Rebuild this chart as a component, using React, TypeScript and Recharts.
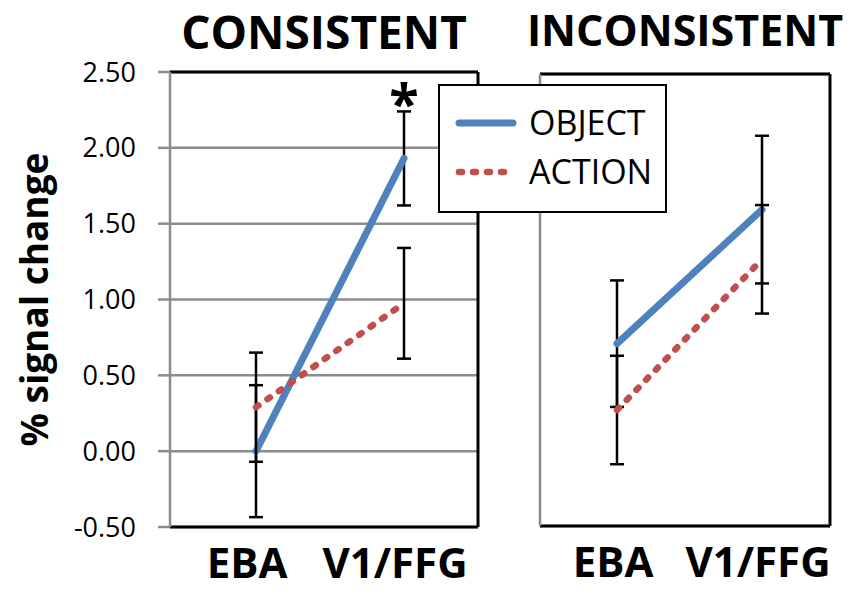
import React from "react";
import {
  LineChart,
  Line,
  XAxis,
  YAxis,
  CartesianGrid,
  ErrorBar,
  LabelList,
} from "recharts";

const categories = ["EBA", "V1/FFG"];

const consistentObject = [0.0, 1.93];
const consistentObjectErr = [0.435, 0.31];
const consistentAction = [0.29, 0.975];
const consistentActionErr = [0.36, 0.365];
const consistentSig = ["", "*"];

const inconsistentObject = [0.71, 1.6];
const inconsistentObjectErr = [0.42, 0.49];
const inconsistentAction = [0.27, 1.27];
const inconsistentActionErr = [0.36, 0.36];
const inconsistentSig = ["", ""];

const yTicks = [-0.5, 0, 0.5, 1, 1.5, 2, 2.5];

const SERIES = [
  { key: "object", name: "OBJECT", color: "#4f81bd", dash: undefined, width: 7 },
  { key: "action", name: "ACTION", color: "#c0504d", dash: "3 11", width: 6.5 },
];

const FONT = "'Open Sans', sans-serif";
const GRID = "#8c8c8c";
const H = 599;

const buildRows = (obj: number[], objErr: number[], act: number[], actErr: number[], sig: string[]) =>
  categories.map((c, i) => ({
    cat: c,
    object: obj[i],
    objectErr: objErr[i],
    action: act[i],
    actionErr: actErr[i],
    sig: sig[i],
  }));

const consistentData = buildRows(consistentObject, consistentObjectErr, consistentAction, consistentActionErr, consistentSig);
const inconsistentData = buildRows(inconsistentObject, inconsistentObjectErr, inconsistentAction, inconsistentActionErr, inconsistentSig);

// black frame on top and right of the plot area
const frameTop = ({ offset }: any) => [offset.top];
const frameRight = ({ offset }: any) => [offset.left + offset.width];

const renderSig = (props: any) => {
  const { x, y, value } = props;
  if (!value) return null;
  return (
    <text x={x} y={y - 35} textAnchor="middle" fontSize={54} fontWeight={700} fontFamily={FONT} fill="#000">
      {value}
    </text>
  );
};

const YTitle = ({ viewBox }: any) => {
  const cx = viewBox.x + 33;
  const cy = viewBox.y + viewBox.height / 2;
  return (
    <text
      x={cx}
      y={cy}
      transform={`rotate(-90 ${cx} ${cy})`}
      textAnchor="middle"
      dominantBaseline="central"
      fontSize={37}
      fontWeight={700}
      fontFamily={FONT}
      fill="#000"
    >
      % signal change
    </text>
  );
};

function Panel({
  title,
  titleSize,
  data,
  left,
  width,
  yAxisWidth,
  marginRight,
  top,
  bottomH,
  pad,
  labelShift,
  showValues,
}: {
  title: string;
  titleSize: number;
  data: any[];
  left: number;
  width: number;
  yAxisWidth: number;
  marginRight: number;
  top: number;
  bottomH: number;
  pad: { left: number; right: number };
  labelShift: number;
  showValues: boolean;
}) {
  const plotW = width - yAxisWidth - marginRight;
  return (
    <div style={{ position: "absolute", left, top: 0, width, height: H }}>
      <div
        style={{
          position: "absolute",
          left: yAxisWidth + plotW / 2,
          top: 8,
          transform: "translateX(-50%)",
          fontFamily: FONT,
          fontWeight: 700,
          fontSize: titleSize,
          lineHeight: 1,
          whiteSpace: "nowrap",
        }}
      >
        {title}
      </div>
      <LineChart width={width} height={H} data={data} margin={{ top, right: marginRight, bottom: 0, left: 0 }}>
        <CartesianGrid vertical={false} stroke={GRID} strokeWidth={2.5} />
        <CartesianGrid
          stroke="#000"
          strokeWidth={3}
          horizontalCoordinatesGenerator={frameTop}
          verticalCoordinatesGenerator={frameRight}
        />
        <XAxis
          dataKey="cat"
          padding={pad}
          height={bottomH}
          tickLine={false}
          tickSize={0}
          tickMargin={21}
          axisLine={{ stroke: "#000", strokeWidth: 3 }}
          tick={{ fill: "#000", fontSize: 42, fontWeight: 700, fontFamily: FONT, dx: labelShift }}
        />
        <YAxis
          type="number"
          domain={[-0.5, 2.5]}
          ticks={yTicks}
          width={yAxisWidth}
          tickSize={12}
          tickMargin={22}
          tickLine={{ stroke: GRID, strokeWidth: 2.5 }}
          axisLine={{ stroke: GRID, strokeWidth: 2.5 }}
          tick={showValues ? { fill: "#000", fontSize: 27, fontFamily: FONT } : false}
          tickFormatter={(v: number) => v.toFixed(2)}
          label={showValues ? <YTitle /> : undefined}
        />
        {SERIES.map((s) => (
          <Line
            key={s.key}
            type="linear"
            dataKey={s.key}
            name={s.name}
            stroke={s.color}
            strokeWidth={s.width}
            strokeDasharray={s.dash}
            strokeLinecap="round"
            dot={false}
            activeDot={false}
            isAnimationActive={false}
          >
            <ErrorBar
              dataKey={`${s.key}Err`}
              direction="y"
              width={7}
              stroke="#000"
              strokeWidth={2.5}
              isAnimationActive={false}
            />
            {s.key === "object" && <LabelList dataKey="sig" content={renderSig} />}
          </Line>
        ))}
      </LineChart>
    </div>
  );
}

function Legend() {
  return (
    <div
      style={{
        position: "absolute",
        left: 438,
        top: 84,
        width: 229,
        height: 129,
        boxSizing: "border-box",
        border: "2.5px solid #000",
        background: "#fff",
        paddingTop: 12,
        zIndex: 2,
      }}
    >
      {SERIES.map((s) => (
        <div key={s.key} style={{ display: "flex", alignItems: "center", height: 49 }}>
          <svg width={64} height={12} style={{ marginLeft: 14 }}>
            <line
              x1={5}
              y1={6}
              x2={59}
              y2={6}
              stroke={s.color}
              strokeWidth={s.width}
              strokeDasharray={s.dash}
              strokeLinecap="round"
            />
          </svg>
          <span style={{ marginLeft: 11, fontFamily: FONT, fontSize: 34, lineHeight: "49px", color: "#000" }}>
            {s.name}
          </span>
        </div>
      ))}
    </div>
  );
}

export default function App() {
  return (
    <div style={{ position: "relative", width: 850, height: H, background: "#fff", overflow: "hidden" }}>
      <style>{`body{margin:0}`}</style>
      <Panel
        title="CONSISTENT"
        titleSize={46}
        data={consistentData}
        left={0}
        width={485}
        yAxisWidth={170}
        marginRight={7}
        top={72}
        bottomH={72}
        pad={{ left: 86, right: 74 }}
        labelShift={-9}
        showValues={true}
      />
      <Panel
        title="INCONSISTENT"
        titleSize={43}
        data={inconsistentData}
        left={480}
        width={370}
        yAxisWidth={60}
        marginRight={20}
        top={74}
        bottomH={73}
        pad={{ left: 77, right: 68 }}
        labelShift={-4}
        showValues={false}
      />
      <Legend />
    </div>
  );
}
